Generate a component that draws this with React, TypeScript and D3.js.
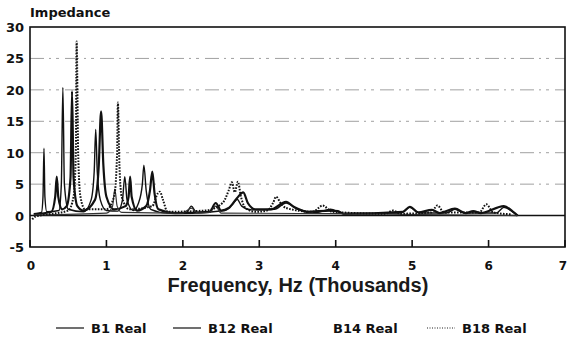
import React, { useEffect, useRef } from "react";
import * as d3 from "d3";

// values, [frequency kHz, impedance]
const b1Real: [number, number][] = [
  [0.05, 0.3], [0.15, 0.5], [0.17, 3], [0.183, 10.7], [0.195, 3], [0.22, 0.6],
  [0.38, 0.8], [0.41, 5], [0.43, 20.4], [0.45, 5], [0.5, 1], [0.7, 0.6],
  [0.8, 2.5], [0.84, 7], [0.86, 13.7], [0.88, 7], [0.92, 2.5], [1.0, 0.8],
  [1.15, 0.7], [1.21, 2.5], [1.24, 6.2], [1.27, 2.5], [1.35, 0.8], [1.42, 2],
  [1.47, 5], [1.49, 8], [1.52, 4], [1.58, 1], [1.8, 0.4], [2.05, 0.5],
  [2.11, 1.5], [2.18, 0.5], [2.55, 0.8], [2.65, 1.8], [2.71, 2.6], [2.77, 1.5],
  [2.9, 0.9], [3.2, 1.0], [3.35, 2.0], [3.5, 1.0], [3.75, 0.5], [3.93, 1.0],
  [4.1, 0.3], [4.85, 0.4], [4.97, 1.3], [5.1, 0.4], [5.45, 0.4], [5.56, 1.0],
  [5.68, 0.4], [6.1, 0.4], [6.2, 1.3], [6.35, 0.3], [6.38, 0],
];

const b12Real: [number, number][] = [
  [0.05, 0.2], [0.28, 0.6], [0.33, 3], [0.35, 6.2], [0.37, 3], [0.42, 1],
  [0.48, 1.5], [0.53, 6], [0.55, 19.8], [0.57, 6], [0.62, 1.5], [0.7, 0.8],
  [0.85, 2.5], [0.9, 8], [0.93, 16.6], [0.96, 8], [1.0, 3], [1.1, 1],
  [1.25, 1.5], [1.29, 3], [1.31, 6.2], [1.33, 3], [1.4, 0.8], [1.52, 1.5],
  [1.57, 4], [1.6, 7], [1.63, 3.5], [1.68, 1], [1.9, 0.4], [2.35, 0.6],
  [2.43, 2.0], [2.5, 0.8], [2.6, 1.2], [2.71, 2.8], [2.79, 3.7], [2.85, 2],
  [2.95, 1.0], [3.15, 1.0], [3.35, 2.2], [3.45, 1.4], [3.52, 1.0], [3.62, 0.6],
  [3.93, 0.8], [4.03, 0.7], [4.1, 0.3], [4.88, 0.6], [4.97, 1.4], [5.08, 0.5],
  [5.26, 0.9], [5.36, 0.4], [5.56, 1.1], [5.7, 0.4], [5.8, 0.7], [5.9, 0.4],
  [6.2, 1.5], [6.33, 0.5], [6.38, 0],
];

const b14Real: [number, number][] = [
  [0.05, 0.1], [1.0, 0.4], [1.08, 1.5], [1.11, 4.2], [1.14, 1.5], [1.2, 0.5],
  [2.0, 0.4], [2.11, 1.2], [2.2, 0.4], [2.35, 0.5], [2.43, 1.5], [2.5, 0.4],
  [4.0, 0.3], [6.38, 0],
];

const b18Real: [number, number][] = [
  [0.03, -0.6], [0.06, -0.2], [0.3, 0.3], [0.5, 0.8], [0.57, 3], [0.6, 10],
  [0.61, 27.7], [0.63, 10], [0.66, 3], [0.72, 1], [1.0, 1], [1.1, 3],
  [1.14, 10], [1.15, 18], [1.17, 8], [1.2, 3], [1.3, 1], [1.6, 1.5],
  [1.67, 3.5], [1.7, 3.8], [1.74, 2.5], [1.8, 0.6], [2.3, 0.8], [2.52, 2],
  [2.6, 4], [2.64, 5.3], [2.68, 3.7], [2.72, 5.4], [2.76, 3], [2.82, 1.2],
  [2.95, 0.6], [3.1, 0.8], [3.18, 2], [3.22, 3.0], [3.28, 2], [3.35, 1.2],
  [3.7, 0.6], [3.83, 1.6], [3.95, 0.6], [4.65, 0.3], [4.75, 0.8], [4.85, 0.3],
  [5.25, 0.5], [5.33, 1.6], [5.42, 0.5], [5.88, 0.5], [5.97, 1.8], [6.06, 0.5],
  [6.3, 0.2],
];

const seriesNames = ["B1 Real", "B12 Real", "B14 Real", "B18 Real"];
const xTicks = [0, 1, 2, 3, 4, 5, 6, 7];
const yTicks = [-5, 0, 5, 10, 15, 20, 25, 30];
const gridValues = [5, 10, 15, 20, 25];

const FONT = "'DejaVu Sans', Verdana, sans-serif";
const TITLE_FONT = "'Liberation Sans', Arial, Helvetica, sans-serif";

const App = () => {
  const svgRef = useRef<SVGSVGElement>(null);

  useEffect(() => {
    const width = 567,
      height = 341;
    const margin = { top: 27, right: 2, bottom: 94, left: 30 };

    const svg = d3.select(svgRef.current);
    svg.selectAll("*").remove();
    svg.attr("width", width).attr("height", height);

    const x = d3.scaleLinear().domain([0, 7]).range([margin.left, width - margin.right]);
    const y = d3.scaleLinear().domain([-5, 30]).range([height - margin.bottom, margin.top]);

    svg.append("rect").attr("width", width).attr("height", height).attr("fill", "#fff");

    // dashed grid, faint like the scan
    svg
      .selectAll("line.grid")
      .data(gridValues)
      .join("line")
      .attr("class", "grid")
      .attr("x1", x(0))
      .attr("x2", x(7))
      .attr("y1", (d) => y(d))
      .attr("y2", (d) => y(d))
      .attr("stroke", "#a0a0a0")
      .attr("stroke-width", 1)
      .attr("stroke-dasharray", "14 5 2 5 3 6");

    // zero line
    svg
      .append("line")
      .attr("x1", x(0))
      .attr("x2", x(7))
      .attr("y1", y(0))
      .attr("y2", y(0))
      .attr("stroke", "#111")
      .attr("stroke-width", 1.6);

    const line = d3
      .line<[number, number]>()
      .x((d) => x(d[0]))
      .y((d) => y(d[1]))
      .curve(d3.curveMonotoneX);

    const styles = [
      { data: b1Real, width: 1.4, dash: null, color: "#111", swatch: true },
      { data: b12Real, width: 2.2, dash: null, color: "#111", swatch: true },
      { data: b14Real, width: 1.2, dash: null, color: "#333", swatch: false },
      { data: b18Real, width: 2, dash: "1.6 1.4", color: "#111", swatch: true },
    ];

    styles.forEach((s) => {
      svg
        .append("path")
        .datum(s.data)
        .attr("fill", "none")
        .attr("stroke", s.color)
        .attr("stroke-width", s.width)
        .attr("stroke-dasharray", s.dash)
        .attr("stroke-linejoin", "round")
        .attr("d", line);
    });

    // frame
    svg
      .append("rect")
      .attr("x", x(0))
      .attr("y", y(30))
      .attr("width", x(7) - x(0))
      .attr("height", y(-5) - y(30))
      .attr("fill", "none")
      .attr("stroke", "#111")
      .attr("stroke-width", 1.6);

    // x ticks (inside)
    svg
      .selectAll("line.xt")
      .data(xTicks)
      .join("line")
      .attr("class", "xt")
      .attr("x1", (d) => x(d))
      .attr("x2", (d) => x(d))
      .attr("y1", y(-5))
      .attr("y2", y(-5) - 7)
      .attr("stroke", "#111")
      .attr("stroke-width", 1.6);

    svg
      .selectAll("text.xl")
      .data(xTicks)
      .join("text")
      .attr("class", "xl")
      .attr("x", (d) => x(d))
      .attr("y", 270)
      .attr("text-anchor", (d) => (d === 7 ? "end" : "middle"))
      .attr("dx", (d) => (d === 0 ? 1 : d === 7 ? 2 : 0))
      .attr("font-family", FONT)
      .attr("font-weight", "bold")
      .attr("font-size", 12)
      .attr("fill", "#111")
      .text((d) => d);

    svg
      .selectAll("text.yl")
      .data(yTicks)
      .join("text")
      .attr("class", "yl")
      .attr("x", 24)
      .attr("y", (d) => y(d) + 5)
      .attr("text-anchor", "end")
      .attr("font-family", FONT)
      .attr("font-weight", "bold")
      .attr("font-size", 13)
      .attr("fill", "#111")
      .text((d) => d);

    svg
      .append("text")
      .attr("x", 30)
      .attr("y", 17)
      .attr("font-family", FONT)
      .attr("font-weight", "bold")
      .attr("font-size", 13)
      .attr("fill", "#111")
      .text("Impedance");

    svg
      .append("text")
      .attr("x", 298)
      .attr("y", 292)
      .attr("text-anchor", "middle")
      .attr("font-family", TITLE_FONT)
      .attr("font-weight", "bold")
      .attr("font-size", 20)
      .attr("fill", "#1a1a1a")
      .text("Frequency, Hz (Thousands)");

    // legend
    const legendX = [56, 173, 298, 427];
    const legend = svg
      .selectAll("g.leg")
      .data(seriesNames)
      .join("g")
      .attr("class", "leg")
      .attr("transform", (d, i) => "translate(" + legendX[i] + ",328)");

    legend
      .append("line")
      .attr("x1", 0)
      .attr("x2", 28)
      .attr("y1", 0)
      .attr("y2", 0)
      .attr("stroke", (d, i) => (styles[i].swatch ? "#222" : "none"))
      .attr("stroke-width", (d, i) => (i === 3 ? 1.2 : 1.3))
      .attr("stroke-dasharray", (d, i) => (i === 3 ? "1 1.5" : null));

    legend
      .append("text")
      .attr("x", 35)
      .attr("y", 5)
      .attr("font-family", FONT)
      .attr("font-weight", "bold")
      .attr("font-size", 13)
      .attr("fill", "#111")
      .text((d) => d);
  }, []);

  return (
    <svg ref={svgRef} style={{ position: "absolute", left: 0, top: 0 }}></svg>
  );
};

export default App;
